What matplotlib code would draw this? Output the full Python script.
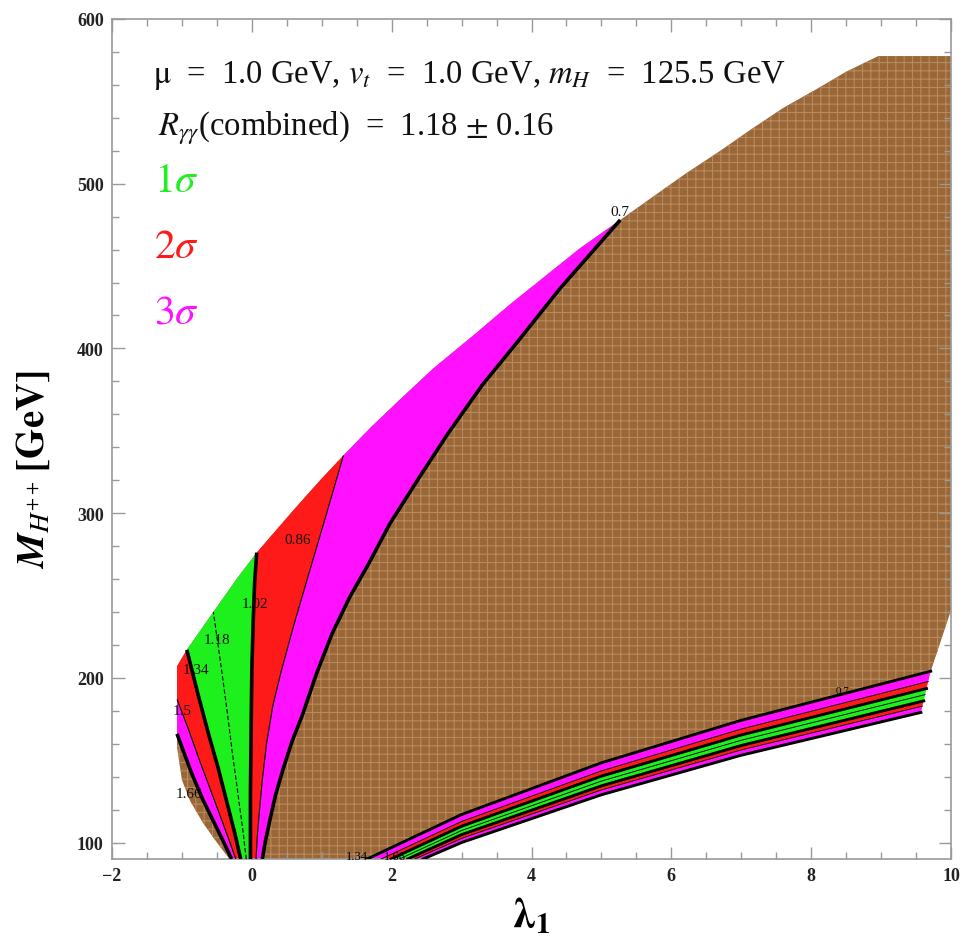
import matplotlib
matplotlib.use("Agg")
import matplotlib.pyplot as plt
from matplotlib.ticker import MultipleLocator

plt.rcParams['font.family'] = ['Liberation Serif', 'DejaVu Serif']
plt.rcParams['mathtext.fontset'] = 'stix'
plt.rcParams['hatch.linewidth'] = 0.8

# upper edge of the allowed region (lambda_1, M_H++)
upper_lam = [-1.07, -0.93, -0.55, -0.2, 0.07, 0.6, 1.0, 1.31, 1.7, 2.12, 2.6, 3.2, 3.7,
             4.2, 4.7, 5.27, 5.7, 6.2, 6.7, 7.14, 7.6, 8.1, 8.5, 8.96]
upper_m = [207, 217, 240, 261, 276, 302, 321, 335, 352, 369, 388, 409, 427,
           444, 461, 478, 491, 506, 520, 533, 546, 558, 568, 577.5]
# flat top and right side of the region
right_lam = [10, 10, 9.71]
right_m = [577.5, 241, 204]
# lower-left edge of the brown region
edge_lam = [-0.32, -0.5, -0.7, -0.88, -1.0, -1.07]
edge_m = [90, 100, 112, 125, 138, 158]

# contour lines of R_gammagamma in the left fan (bottom -> top)
fan_levels = ['1.66', '1.5', '1.34', '1.18', '1.02', '0.86', '0.7']
fan_lam = {
    '1.66': [-0.29, -0.4, -0.55, -0.7, -0.87, -1.07],
    '1.5': [-0.23, -0.33, -0.46, -0.6, -0.75, -0.9, -1.07],
    '1.34': [-0.16, -0.24, -0.36, -0.48, -0.62, -0.77, -0.93],
    '1.18': [-0.08, -0.13, -0.2, -0.28, -0.36, -0.45, -0.55],
    '1.02': [-0.02, -0.02, -0.01, 0.0, 0.02, 0.04, 0.07],
    '0.86': [0.06, 0.08, 0.11, 0.15, 0.21, 0.3, 0.42, 0.6, 0.8, 1.05, 1.31],
    '0.7': [0.15, 0.19, 0.26, 0.34, 0.45, 0.58, 0.72, 0.92, 1.15, 1.4, 1.68, 1.98,
            2.4, 2.8, 3.3, 3.8, 4.4, 5.0, 5.27],
}
fan_m = {
    '1.66': [90, 100, 113, 126, 143, 166],
    '1.5': [90, 102, 117, 133, 150, 168, 187],
    '1.34': [90, 105, 125, 145, 166, 190, 217],
    '1.18': [90, 108, 130, 155, 182, 210, 240],
    '1.02': [90, 130, 170, 205, 235, 258, 276],
    '0.86': [90, 105, 120, 138, 160, 183, 204, 232, 261, 297, 335],
    '0.7': [90, 100, 114, 129, 145, 162, 177, 202, 227, 249, 270, 294,
            322, 348, 378, 404, 436, 465, 478],
}

# contour lines in the lower band (left -> right)
band_lam = {
    '0.7': [1.65, 3, 5, 7, 9.71],
    '0.86': [1.85, 3, 5, 7, 9.675],
    '1.02': [1.99, 3, 5, 7, 9.65],
    '1.18': [2.11, 3, 5, 7, 9.63],
    '1.34': [2.23, 3, 5, 7, 9.61],
    '1.5': [2.33, 3, 5, 7, 9.59],
    '1.66': [2.45, 3, 5, 7, 9.57],
}
band_m = {
    '0.7': [90, 117, 148.4, 174.2, 204],
    '0.86': [90, 112.8, 143.5, 168.9, 197.8],
    '1.02': [90, 109.9, 140.3, 165.3, 193.5],
    '1.18': [90, 107.3, 137.3, 162.1, 189.8],
    '1.34': [90, 104.8, 134.4, 158.9, 186],
    '1.5': [90, 102.5, 131.9, 156.2, 182.8],
    '1.66': [90, 100, 129, 153, 179],
}

BROWN = '#9a6738'
GREEN = '#1ef01e'
RED = '#ff1a1a'
MAGENTA = '#ff10ff'
band_colors = {('1.66', '1.5'): MAGENTA, ('1.5', '1.34'): RED, ('1.34', '1.02'): GREEN,
               ('1.02', '0.86'): RED, ('0.86', '0.7'): MAGENTA}
thick = {'1.66', '1.34', '1.02', '0.7'}


def upper_slice(a, b):
    pts = [(l, m) for l, m in zip(upper_lam, upper_m) if a - 1e-9 <= l <= b + 1e-9]
    return [p[0] for p in pts], [p[1] for p in pts]


fig = plt.figure(figsize=(9.63, 9.53), dpi=100)
ax = fig.add_axes([112 / 963, 1 - 860 / 953, 839 / 963, 840 / 953])

# brown allowed region
bx = edge_lam + upper_lam + right_lam + band_lam['0.7'][::-1]
by = edge_m + upper_m + right_m + band_m['0.7'][::-1]
ax.fill(bx, by, facecolor=BROWN, edgecolor='#b98a5c', hatch='++', linewidth=0, zorder=1)

# fan regions and the same colours in the lower band
for (lo, hi), col in band_colors.items():
    ux, uy = [], []
    top_lo, top_hi = fan_lam[lo][-1], fan_lam[hi][-1]
    if top_hi > top_lo:
        ux, uy = upper_slice(top_lo, top_hi)
    px = fan_lam[lo] + ux + fan_lam[hi][::-1]
    py = fan_m[lo] + uy + fan_m[hi][::-1]
    ax.fill(px, py, color=col, linewidth=0, zorder=2)
    qx = band_lam[lo] + band_lam[hi][::-1]
    qy = band_m[lo] + band_m[hi][::-1]
    ax.fill(qx, qy, color=col, linewidth=0, zorder=2)

for lev in fan_levels:
    lw = 2.6 if lev in thick else 0.8
    ls = (0, (4, 2)) if lev == '1.18' else '-'
    ax.plot(fan_lam[lev], fan_m[lev], color='black', lw=lw, ls=ls, zorder=3,
            solid_capstyle='butt', solid_joinstyle='round')
    ax.plot(band_lam[lev], band_m[lev], color='black', lw=lw * 0.8, zorder=3)

# contour labels
lab_lam = [5.27, 0.66, 0.05, -0.5, -0.8, -1.0, -0.9]
lab_m = [483, 284, 245, 223, 205, 180, 130]
lab_txt = ['0.7', '0.86', '1.02', '1.18', '1.34', '1.5', '1.66']
for l, m, t in zip(lab_lam, lab_m, lab_txt):
    ax.text(l, m, t, fontsize=11, ha='center', va='center', color='#111', zorder=4)
ax.text(1.5, 91.8, '1.34', fontsize=9, ha='center', va='center', zorder=4)
ax.text(2.05, 91.8, '1.66', fontsize=9, ha='center', va='center', zorder=4)
ax.text(8.45, 192, '0.7', fontsize=8, ha='center', va='center', zorder=4)

# annotations
ax.text(0.049, 0.925, r'$\mathrm{\mu}$  =  1.0 GeV, $v_t$  =  1.0 GeV, $m_H$  =  125.5 GeV',
        transform=ax.transAxes, fontsize=23.5, va='baseline', color='#111')
ax.text(0.055, 0.863, r'$R_{\gamma\gamma}$(combined)  =  1.18 $\pm$ 0.16',
        transform=ax.transAxes, fontsize=23.5, va='baseline', color='#111')
sig_y = [0.807, 0.729, 0.651]
sig_txt = [r'$1\sigma$', r'$2\sigma$', r'$3\sigma$']
sig_col = ['#22ee22', '#ff1a1a', '#ff10ff']
for y, t, c in zip(sig_y, sig_txt, sig_col):
    ax.text(0.05, y, t, transform=ax.transAxes, fontsize=30, va='center', color=c)

ax.set_xlim(-2, 10)
ax.set_ylim(90, 600)
ax.xaxis.set_major_locator(MultipleLocator(2))
ax.xaxis.set_minor_locator(MultipleLocator(0.5))
ax.yaxis.set_major_locator(MultipleLocator(100))
ax.yaxis.set_minor_locator(MultipleLocator(20))
ax.tick_params(which='both', direction='in', top=True, right=True, color='#999999',
               width=1, labelsize=13, labelcolor='#222222', pad=6)
ax.tick_params(which='major', length=9)
ax.tick_params(which='minor', length=5)
for lab in ax.get_xticklabels() + ax.get_yticklabels():
    lab.set_fontweight('bold')
for s in ax.spines.values():
    s.set_color('#999999')
    s.set_linewidth(1.2)

ax.set_xlabel(r'$\mathbf{\lambda_1}$', fontsize=30, labelpad=8)
ax.set_ylabel(r'$\boldsymbol{M}_{\boldsymbol{H^{++}}}\,\mathbf{[GeV]}$', fontsize=28)
ax.yaxis.set_label_coords(-0.07, 0.465)

fig.savefig('out.png', dpi=100)
